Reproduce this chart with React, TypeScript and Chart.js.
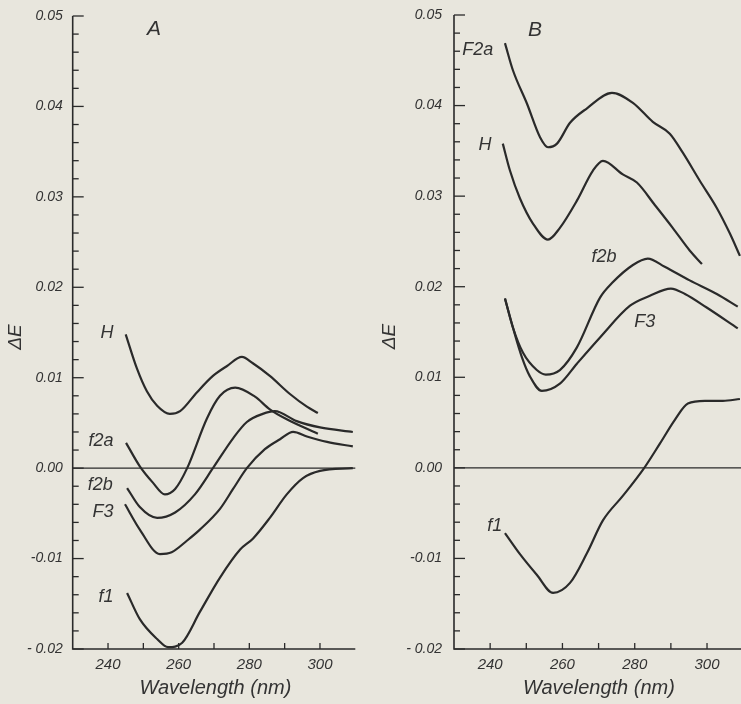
import React, { useEffect, useRef } from "react";
import { Chart, registerables } from "chart.js";

Chart.register(...registerables);

const PAPER = "#e8e6dd";
const INK = "#2a2a2a";
const TEXT = "#333333";
const FONT = '"Liberation Sans", Arial, sans-serif';

// Axis ranges and tick labels
const X_MIN = 230;
const Y_MIN = -0.02;
const Y_MAX = 0.05;
const yMajorValues = [0.05, 0.04, 0.03, 0.02, 0.01, 0, -0.01, -0.02];
const yMajorLabels = ["0.05", "0.04", "0.03", "0.02", "0.01", "0.00", "-0.01", "- 0.02"];
const xTickValues = [240, 250, 260, 270, 280, 290, 300];
const xLabelValues = [240, 260, 280, 300];
const xTitle = "Wavelength (nm)";
const yTitle = "ΔE";

// Panel A series: [wavelength nm, ΔE]
const A_H: [number, number][] = [
  [245, 0.0148], [248.2, 0.011], [251, 0.0085], [253.9, 0.0069], [257.5, 0.006],
  [260.4, 0.0063], [265.2, 0.0084], [269.7, 0.0102], [273.7, 0.0113], [277.9, 0.0123],
  [281, 0.0116], [285.8, 0.0102], [291.5, 0.0082], [296.3, 0.0068], [299.4, 0.0061],
];
const A_f2a: [number, number][] = [
  [245.1, 0.0028], [249, 0.0002], [252.7, -0.0016], [256.1, -0.0029], [259, -0.0023],
  [262.4, 0], [268, 0.0055], [271.7, 0.008], [276, 0.0089], [281.6, 0.0079],
  [285.8, 0.0065], [290.6, 0.0054], [299.4, 0.0038],
];
const A_f2b: [number, number][] = [
  [245.4, -0.0022], [249, -0.0043], [253.9, -0.0055], [259, -0.0049], [264.6, -0.0029],
  [269.7, 0], [275.4, 0.0033], [279.3, 0.0051], [283.8, 0.006], [287.2, 0.0063],
  [293.4, 0.0052], [300, 0.0045], [309.3, 0.004],
];
const A_F3: [number, number][] = [
  [244.8, -0.004], [249, -0.0068], [254.7, -0.0095], [258, -0.0093], [262.4, -0.008],
  [266, -0.0068], [271.7, -0.0045], [275.4, -0.0023], [279.3, 0], [284.4, 0.0021],
  [288.7, 0.0032], [292.4, 0.004], [296.3, 0.0035], [302, 0.0029], [309.3, 0.0024],
];
const A_f1: [number, number][] = [
  [245.4, -0.0138], [249, -0.0167], [253.9, -0.0189], [257, -0.0198], [261, -0.0193],
  [266, -0.0159], [271.7, -0.0121], [277.4, -0.009], [281, -0.0078], [285.8, -0.0055],
  [290.6, -0.0029], [295.2, -0.0011], [300, -0.0003], [309.3, 0],
];

// Panel B series
const B_F2a: [number, number][] = [
  [244.1, 0.0469], [246.3, 0.0439], [250.2, 0.0402], [253.8, 0.0365], [256, 0.0354],
  [258.5, 0.0358], [262.1, 0.0381], [266.8, 0.0397], [273.7, 0.0414], [279.5, 0.0403],
  [285, 0.0382], [289.7, 0.0369], [293.3, 0.0348], [298, 0.0317], [302.7, 0.0287],
  [306.3, 0.0259], [309.1, 0.0234],
];
const B_H: [number, number][] = [
  [243.5, 0.0358], [245.5, 0.0328], [248.2, 0.0298], [251.8, 0.027], [256, 0.0252],
  [259.3, 0.0265], [264, 0.0295], [268.4, 0.0328], [271.2, 0.0339], [276.7, 0.0324],
  [280.6, 0.0315], [285.6, 0.029], [290.5, 0.0265], [295.2, 0.024], [298.6, 0.0225],
];
const B_F2b: [number, number][] = [
  [244.1, 0.0187], [246.3, 0.0155], [249.1, 0.0127], [252.9, 0.0108], [255.4, 0.0103],
  [259.3, 0.0108], [264, 0.0133], [270.4, 0.0188], [273.7, 0.0204], [279.5, 0.0224],
  [283.6, 0.0231], [288.3, 0.0222], [295.2, 0.0207], [302.7, 0.0192], [308.5, 0.0178],
];
const B_F3: [number, number][] = [
  [244.1, 0.0187], [246.3, 0.0155], [248.8, 0.0122], [251, 0.0101], [254.3, 0.0085],
  [259.3, 0.0093], [264, 0.0115], [270.4, 0.0144], [278.7, 0.0179], [284.2, 0.019],
  [290, 0.0198], [293.9, 0.0192], [299.9, 0.0177], [308.5, 0.0154],
];
const B_f1: [number, number][] = [
  [244.1, -0.0072], [248.2, -0.0095], [252.9, -0.0118], [257.4, -0.0138], [262.1, -0.0127],
  [266.8, -0.0094], [271.2, -0.0058], [276.7, -0.0031], [282.3, -0.0002], [287, 0.0027],
  [291.1, 0.0053], [294.7, 0.0071], [299.4, 0.0074], [304.4, 0.0074], [309.1, 0.0076],
];

type Series = { name: string; points: [number, number][]; at: [number, number] };
type PanelCfg = {
  letter: string;
  letterAt: [number, number];
  left: number;
  width: number;
  xMax: number;
  pad: { left: number; right: number; top: number; bottom: number };
  labelGap: number;
  yTitleOffset: number;
  series: Series[];
};

const panels: PanelCfg[] = [
  {
    letter: "A",
    letterAt: [253, 0.0485],
    left: 0,
    width: 370,
    xMax: 310,
    pad: { left: 72.7, right: 14.7, top: 16, bottom: 55 },
    labelGap: 10,
    yTitleOffset: 57,
    series: [
      { name: "H", points: A_H, at: [239.7, 0.015] },
      { name: "f2a", points: A_f2a, at: [238.0, 0.003] },
      { name: "f2b", points: A_f2b, at: [237.8, -0.0019] },
      { name: "F3", points: A_F3, at: [238.6, -0.0048] },
      { name: "f1", points: A_f1, at: [239.4, -0.0142] },
    ],
  },
  {
    letter: "B",
    letterAt: [252.4, 0.0483],
    left: 370,
    width: 371,
    xMax: 309.4,
    pad: { left: 84, right: 0, top: 15, bottom: 55 },
    labelGap: 12,
    yTitleOffset: 64,
    series: [
      { name: "F2a", points: B_F2a, at: [236.6, 0.0461] },
      { name: "H", points: B_H, at: [238.6, 0.0356] },
      { name: "f2b", points: B_F2b, at: [271.5, 0.0233] },
      { name: "F3", points: B_F3, at: [282.8, 0.0161] },
      { name: "f1", points: B_f1, at: [241.3, -0.0064] },
    ],
  },
];

function makeAxesPlugin(cfg: PanelCfg) {
  return {
    id: "paperAxes" + cfg.letter,
    afterDraw(chart: any) {
      const ctx: CanvasRenderingContext2D = chart.ctx;
      const xs = chart.scales.x;
      const ys = chart.scales.y;
      const x0 = xs.getPixelForValue(X_MIN);
      const x1 = xs.getPixelForValue(cfg.xMax);
      const yTop = ys.getPixelForValue(Y_MAX);
      const yBot = ys.getPixelForValue(Y_MIN);
      const yZero = ys.getPixelForValue(0);
      ctx.save();
      ctx.strokeStyle = INK;
      ctx.lineCap = "butt";

      // axes
      ctx.lineWidth = 1.6;
      ctx.beginPath();
      ctx.moveTo(x0, yTop);
      ctx.lineTo(x0, yBot);
      ctx.lineTo(x1, yBot);
      ctx.stroke();

      // zero line
      ctx.lineWidth = 1.3;
      ctx.beginPath();
      ctx.moveTo(x0, yZero);
      ctx.lineTo(x1, yZero);
      ctx.stroke();

      // y ticks every 0.002, major every 0.01
      ctx.lineWidth = 1.3;
      for (let i = 0; i <= 35; i++) {
        const v = Y_MIN + i * 0.002;
        const py = ys.getPixelForValue(v);
        const isMajor = i % 5 === 0;
        ctx.beginPath();
        ctx.moveTo(x0, py);
        ctx.lineTo(x0 + (isMajor ? 11 : 6), py);
        ctx.stroke();
      }
      // x ticks
      for (const v of xTickValues) {
        const px = xs.getPixelForValue(v);
        ctx.beginPath();
        ctx.moveTo(px, yBot);
        ctx.lineTo(px, yBot - 6);
        ctx.stroke();
      }

      ctx.fillStyle = TEXT;
      // y tick labels
      ctx.font = `italic 14px ${FONT}`;
      ctx.textAlign = "right";
      ctx.textBaseline = "middle";
      yMajorValues.forEach((v, i) => {
        ctx.fillText(yMajorLabels[i], x0 - cfg.labelGap, ys.getPixelForValue(v));
      });
      // x tick labels
      ctx.font = `italic 15px ${FONT}`;
      ctx.textAlign = "center";
      for (const v of xLabelValues) {
        ctx.fillText(String(v), xs.getPixelForValue(v), yBot + 16);
      }
      // x title
      ctx.font = `italic 20px ${FONT}`;
      ctx.fillText(xTitle, xs.getPixelForValue(X_MIN + (cfg.xMax - X_MIN) * 0.505), yBot + 39);
      // y title
      ctx.save();
      ctx.translate(x0 - cfg.yTitleOffset, ys.getPixelForValue(0.0145));
      ctx.rotate(-Math.PI / 2);
      ctx.font = `italic 19px ${FONT}`;
      ctx.fillText(yTitle, 0, 0);
      ctx.restore();

      // panel letter
      ctx.font = `italic 21px ${FONT}`;
      ctx.fillText(cfg.letter, xs.getPixelForValue(cfg.letterAt[0]), ys.getPixelForValue(cfg.letterAt[1]));

      // curve labels
      ctx.font = `italic 18px ${FONT}`;
      for (const s of cfg.series) {
        ctx.fillText(s.name, xs.getPixelForValue(s.at[0]), ys.getPixelForValue(s.at[1]));
      }
      ctx.restore();
    },
  };
}

function Panel({ cfg }: { cfg: PanelCfg }) {
  const ref = useRef<HTMLCanvasElement | null>(null);
  useEffect(() => {
    if (!ref.current) return;
    const chart = new Chart(ref.current, {
      type: "line",
      data: {
        datasets: cfg.series.map((s) => ({
          label: s.name,
          data: s.points.map(([x, y]) => ({ x, y })),
          borderColor: INK,
          borderWidth: 2.2,
          pointRadius: 0,
          fill: false,
          cubicInterpolationMode: "monotone" as const,
        })),
      },
      options: {
        responsive: false,
        animation: false,
        devicePixelRatio: 1,
        layout: { padding: cfg.pad },
        plugins: { legend: { display: false }, tooltip: { enabled: false }, title: { display: false } },
        scales: {
          x: { type: "linear", min: X_MIN, max: cfg.xMax, display: false },
          y: { type: "linear", min: Y_MIN, max: Y_MAX, display: false },
        },
      },
      plugins: [makeAxesPlugin(cfg)],
    });
    return () => chart.destroy();
  }, [cfg]);
  return (
    <canvas
      ref={ref}
      width={cfg.width}
      height={704}
      style={{ position: "absolute", left: cfg.left, top: 0, width: cfg.width, height: 704 }}
    />
  );
}

export default function App() {
  useEffect(() => {
    document.body.style.margin = "0";
    document.body.style.background = PAPER;
    document.body.style.overflow = "hidden";
  }, []);
  return (
    <div
      style={{
        position: "absolute",
        left: 0,
        top: 0,
        width: 741,
        height: 704,
        background: PAPER,
        overflow: "hidden",
      }}
    >
      {panels.map((p) => (
        <Panel key={p.letter} cfg={p} />
      ))}
    </div>
  );
}
